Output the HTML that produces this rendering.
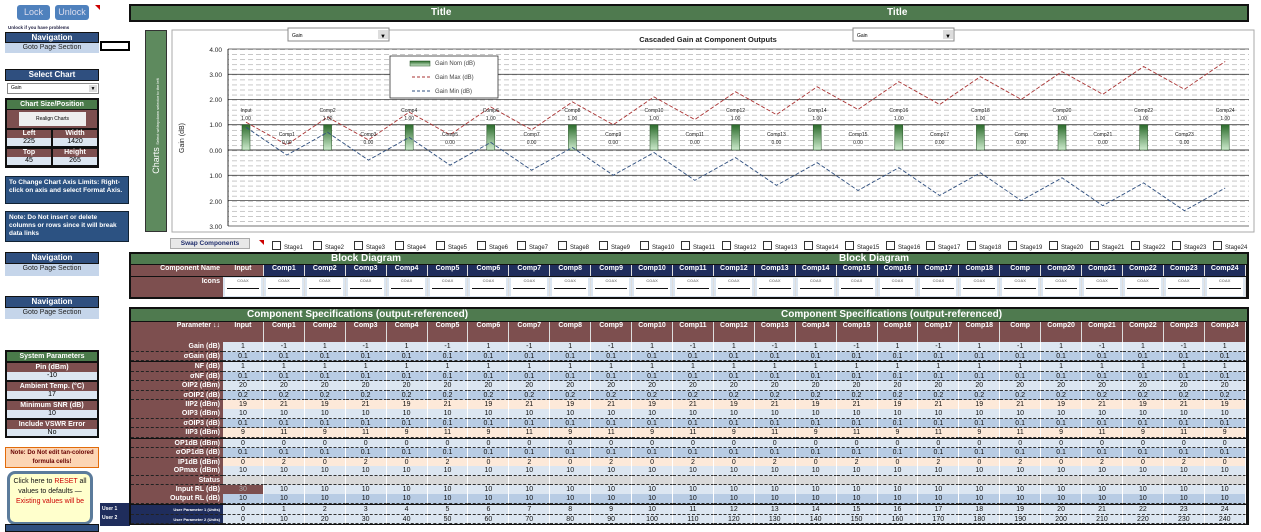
<!DOCTYPE html>
<html><head><meta charset="utf-8"><style>
*{margin:0;padding:0;box-sizing:border-box}
body{width:1261px;height:530px;background:#fff;position:relative;overflow:hidden;font-family:"Liberation Sans",sans-serif}
.a{position:absolute}
.nv{position:absolute;background:#2f4f7f;color:#fff;font:bold 8px "Liberation Sans",sans-serif;text-align:center;border:1px solid #111;line-height:9px}
.gp{position:absolute;background:#c5d5ea;color:#222;font:7px "Liberation Sans",sans-serif;text-align:center;line-height:10px}
.r{position:absolute;left:131px;display:flex;height:9.5px}
.r b{width:92px;background:#7d4f4f;color:#fff;text-align:right;font:bold 7px "Liberation Sans",sans-serif;padding-right:3px;line-height:9.5px;border-bottom:1px dashed #222}
.r i{width:40.92px;font-style:normal;text-align:center;font:7px "Liberation Sans",sans-serif;line-height:9px;border-right:1px solid #fff;border-bottom:1px dashed #333;color:#111}
.L i{background:#dce6f1}.M i{background:#b8cce4}.P i{background:#fde9d9}.G i{background:#d9d9d9}
.hd{position:absolute;left:131px;display:flex}
.hd b{width:92px;background:#7d4f4f;color:#fff;text-align:right;font:bold 7px "Liberation Sans",sans-serif;padding-right:3px}
.hd i{width:40.92px;font-style:normal;text-align:center;font:bold 7px "Liberation Sans",sans-serif;color:#fff;border-right:1px solid #ddd}
.cb{position:absolute;top:241px;font:6px "Liberation Sans",sans-serif;color:#222;white-space:nowrap}
.cb:before{content:"";display:inline-block;width:7px;height:7px;border:1px solid #333;margin-right:3px;vertical-align:-1px}
.ic i{background:#dce6f1;padding:1px 2px}
.ic i span{display:block;background:#fff;height:18px;font-size:4px;color:#888;line-height:6px;position:relative}
.ic i span:after{content:"";position:absolute;left:2px;right:2px;top:10px;height:1px;background:#111}
</style></head><body>

<!-- Left panel -->
<div class="a" style="left:17px;top:5px;width:33px;height:15px;background:#4f81bd;border-radius:3px;color:#dde;font:9px 'Liberation Sans';text-align:center;line-height:15px">Lock</div>
<div class="a" style="left:55px;top:5px;width:34px;height:15px;background:#4f81bd;border-radius:3px;color:#dde;font:9px 'Liberation Sans';text-align:center;line-height:15px">Unlock</div>
<div class="a" style="left:95px;top:5px;width:0;height:0;border-left:5px solid transparent;border-top:5px solid #c00"></div>
<div class="a" style="left:8px;top:25px;font:bold 4.5px 'Liberation Sans';color:#224">Unlock if you have problems</div>
<div class="nv" style="left:5px;top:32px;width:94px;height:11px">Navigation</div>
<div class="gp" style="left:5px;top:43px;width:94px;height:10px">Goto Page Section</div>
<div class="a" style="left:100px;top:41px;width:30px;height:10px;border:2px solid #000"></div>

<div class="nv" style="left:5px;top:69px;width:94px;height:12px;line-height:10px">Select Chart</div>
<div class="a" style="left:7px;top:83px;width:92px;height:11px;border:1px solid #888;font:5px 'Liberation Sans';line-height:9px;padding-left:3px">Gain<span style="position:absolute;right:1px;top:1px;width:8px;height:7px;background:#ddd;font-size:5px;text-align:center">▼</span></div>

<div class="a" style="left:5px;top:98px;width:94px;height:70px;background:#111"></div>
<div class="a" style="left:7px;top:100px;width:90px;height:9px;background:#4a7a4a;color:#fff;font:bold 7px 'Liberation Sans';text-align:center;line-height:9px">Chart Size/Position</div>
<div class="a" style="left:7px;top:110px;width:90px;height:18px;background:#7d4f4f"></div>
<div class="a" style="left:19px;top:112px;width:67px;height:14px;background:#eee;font:5px 'Liberation Sans';text-align:center;line-height:14px">Realign Charts</div>
<div class="a" style="left:7px;top:130px;width:44px;height:8px;background:#7d4f4f;color:#fff;font:bold 7px 'Liberation Sans';text-align:center;line-height:8px">Left</div>
<div class="a" style="left:53px;top:130px;width:44px;height:8px;background:#7d4f4f;color:#fff;font:bold 7px 'Liberation Sans';text-align:center;line-height:8px">Width</div>
<div class="a" style="left:7px;top:138px;width:44px;height:8px;background:#dce6f1;font:7px 'Liberation Sans';text-align:center;line-height:8px">225</div>
<div class="a" style="left:53px;top:138px;width:44px;height:8px;background:#dce6f1;font:7px 'Liberation Sans';text-align:center;line-height:8px">1420</div>
<div class="a" style="left:7px;top:149px;width:44px;height:8px;background:#7d4f4f;color:#fff;font:bold 7px 'Liberation Sans';text-align:center;line-height:8px">Top</div>
<div class="a" style="left:53px;top:149px;width:44px;height:8px;background:#7d4f4f;color:#fff;font:bold 7px 'Liberation Sans';text-align:center;line-height:8px">Height</div>
<div class="a" style="left:7px;top:157px;width:44px;height:8px;background:#dce6f1;font:7px 'Liberation Sans';text-align:center;line-height:8px">45</div>
<div class="a" style="left:53px;top:157px;width:44px;height:8px;background:#dce6f1;font:7px 'Liberation Sans';text-align:center;line-height:8px">265</div>

<div class="a" style="left:5px;top:176px;width:124px;height:28px;background:#2c5282;border:1px solid #123;color:#fff;font:bold 6.5px 'Liberation Sans';padding:2px 3px;line-height:8px">To Change Chart Axis Limits: Right-click on axis and select Format Axis.</div>
<div class="a" style="left:5px;top:211px;width:124px;height:31px;background:#2c5282;border:1px solid #123;color:#fff;font:bold 6.5px 'Liberation Sans';padding:2px 3px;line-height:8px;overflow:hidden">Note: Do Not insert or delete columns or rows since it will break data links</div>

<div class="nv" style="left:5px;top:252px;width:94px;height:12px;line-height:10px">Navigation</div>
<div class="gp" style="left:5px;top:264px;width:94px;height:12px">Goto Page Section</div>
<div class="nv" style="left:5px;top:296px;width:94px;height:12px;line-height:10px">Navigation</div>
<div class="gp" style="left:5px;top:308px;width:94px;height:11px">Goto Page Section</div>

<div class="a" style="left:5px;top:350px;width:94px;height:88px;background:#111"></div>
<div class="a" style="left:7px;top:352px;width:90px;height:9px;background:#4a7a4a;color:#fff;font:bold 7px 'Liberation Sans';text-align:center;line-height:9px">System Parameters</div>
<div class="a" style="left:7px;top:363px;width:90px;height:9px;background:#7d4f4f;color:#fff;font:bold 7px 'Liberation Sans';text-align:center;line-height:9px">Pin (dBm)</div>
<div class="a" style="left:7px;top:372px;width:90px;height:8px;background:#dce6f1;font:7px 'Liberation Sans';text-align:center;line-height:8px">-10</div>
<div class="a" style="left:7px;top:382px;width:90px;height:9px;background:#7d4f4f;color:#fff;font:bold 7px 'Liberation Sans';text-align:center;line-height:9px">Ambient Temp. (°C)</div>
<div class="a" style="left:7px;top:391px;width:90px;height:8px;background:#dce6f1;font:7px 'Liberation Sans';text-align:center;line-height:8px">17</div>
<div class="a" style="left:7px;top:401px;width:90px;height:9px;background:#7d4f4f;color:#fff;font:bold 7px 'Liberation Sans';text-align:center;line-height:9px">Minimum SNR (dB)</div>
<div class="a" style="left:7px;top:410px;width:90px;height:8px;background:#dce6f1;font:7px 'Liberation Sans';text-align:center;line-height:8px">10</div>
<div class="a" style="left:7px;top:420px;width:90px;height:9px;background:#7d4f4f;color:#fff;font:bold 7px 'Liberation Sans';text-align:center;line-height:9px">Include VSWR Error</div>
<div class="a" style="left:7px;top:429px;width:90px;height:7px;background:#dce6f1;font:7px 'Liberation Sans';text-align:center;line-height:7px">No</div>

<div class="a" style="left:5px;top:447px;width:94px;height:21px;background:#fcd5b4;border:1px solid #e26b0a;font:bold 6px 'Liberation Sans';color:#600;text-align:center;line-height:9px;padding-top:1px">Note: Do Not edit tan-colored formula cells!</div>
<div class="a" style="left:7px;top:471px;width:86px;height:54px;background:#ffffcc;border:3px solid #5b7b9b;border-radius:8px;font:7px 'Liberation Sans';text-align:center;line-height:10px;padding-top:3px;color:#111">Click here to <span style="color:#c00">RESET</span> all values to defaults — <span style="color:#c00">Existing values will be</span></div>
<div class="a" style="left:100px;top:503px;width:30px;height:23px;background:#1f2d5c;color:#fff;font:bold 5px 'Liberation Sans';line-height:9px;padding:2px">User 1<br>User 2</div>
<div class="nv" style="left:5px;top:524px;width:94px;height:8px"></div>

<!-- Title bar -->
<div class="a" style="left:129px;top:4px;width:1120px;height:18px;background:#4f7a4f;border:2px solid #111;color:#fff;font:bold 10px 'Liberation Sans';line-height:14px"><span class="a" style="left:300px">Title</span><span class="a" style="left:756px">Title</span></div>

<!-- Chart side bar -->
<div class="a" style="left:145px;top:30px;width:22px;height:202px;background:#5e8a5e;border:1px solid #333"><div class="a" style="left:-80px;top:90px;width:180px;transform:rotate(-90deg);color:#fff;font:9px 'Liberation Sans';text-align:center">Charts <span style="font-size:4px">Select w/dropdown selector to the left</span></div></div>

<!-- Chart -->
<svg class="a" style="left:0;top:0" width="1261" height="530" viewBox="0 0 1261 530" font-family="Liberation Sans, sans-serif">
<defs>
<pattern id="mg" width="8" height="5.06" patternUnits="userSpaceOnUse" y="49"><line x1="0" y1="0.5" x2="5" y2="0.5" stroke="#bbb" stroke-width="0.8"/></pattern>
<linearGradient id="bg" x1="0" x2="1"><stop offset="0" stop-color="#2e6b2e"/><stop offset="0.5" stop-color="#9fd49f"/><stop offset="1" stop-color="#2e6b2e"/></linearGradient>
<linearGradient id="bv" x1="0" y1="0" x2="0" y2="1"><stop offset="0" stop-color="#2a6a2a"/><stop offset="1" stop-color="#cdebcd"/></linearGradient>
</defs>
<rect x="172" y="30" width="1082" height="202" fill="#fff" stroke="#aaa"/>
<rect x="288" y="28" width="101" height="13" fill="#fff" stroke="#888"/><text x="292" y="37" font-size="5">Gain</text><rect x="378" y="30" width="10" height="9" fill="#ddd"/><text x="380" y="38" font-size="6">▼</text>
<rect x="853" y="28" width="101" height="13" fill="#fff" stroke="#888"/><text x="857" y="37" font-size="5">Gain</text><rect x="943" y="30" width="10" height="9" fill="#ddd"/><text x="945" y="38" font-size="6">▼</text>
<text x="708" y="42" font-size="7.5" font-weight="bold" text-anchor="middle" fill="#222">Cascaded Gain  at Component Outputs</text>
<text transform="translate(184,138) rotate(-90)" font-size="7" text-anchor="middle" fill="#222">Gain (dB)</text>
<rect x="228" y="49" width="1021" height="177" fill="url(#mg)"/>
<g stroke="#444" stroke-width="0.8">
<line x1="228" y1="49" x2="1249" y2="49"/><line x1="228" y1="74.3" x2="1249" y2="74.3"/><line x1="228" y1="99.4" x2="1249" y2="99.4"/><line x1="228" y1="124.7" x2="1249" y2="124.7"/><line x1="228" y1="150" x2="1249" y2="150" stroke="#000"/><line x1="228" y1="175.3" x2="1249" y2="175.3"/><line x1="228" y1="200.6" x2="1249" y2="200.6"/><line x1="228" y1="226" x2="1249" y2="226"/><line x1="228" y1="49" x2="228" y2="226" stroke="#000"/>
</g>
<g font-size="6.5" text-anchor="end" fill="#222">
<text x="222" y="52">4.00</text><text x="222" y="77">3.00</text><text x="222" y="102">2.00</text><text x="222" y="127">1.00</text><text x="222" y="153">0.00</text><text x="222" y="178">1.00</text><text x="222" y="204">2.00</text><text x="222" y="229">3.00</text>
</g>
<g fill="url(#bv)" stroke="#1e4d1e" stroke-width="0.5">
<rect x="242" y="124.7" width="8" height="25.3"/><rect x="323.6" y="124.7" width="8" height="25.3"/><rect x="405.2" y="124.7" width="8" height="25.3"/><rect x="486.8" y="124.7" width="8" height="25.3"/><rect x="568.4" y="124.7" width="8" height="25.3"/><rect x="650" y="124.7" width="8" height="25.3"/><rect x="731.6" y="124.7" width="8" height="25.3"/><rect x="813.2" y="124.7" width="8" height="25.3"/><rect x="894.8" y="124.7" width="8" height="25.3"/><rect x="976.4" y="124.7" width="8" height="25.3"/><rect x="1058" y="124.7" width="8" height="25.3"/><rect x="1139.6" y="124.7" width="8" height="25.3"/><rect x="1221.2" y="124.7" width="8" height="25.3"/>
</g>
<polyline fill="none" stroke="#a33" stroke-width="0.9" stroke-dasharray="4,2" points="246,122.2 286.8,144.9 327.6,117.1 368.4,139.9 409.2,112.1 450,134.8 490.8,107 531.6,129.8 572.4,101.9 613.2,124.7 654,96.9 694.8,119.6 735.6,91.8 776.4,114.6 817.2,86.8 858,109.5 898.8,81.7 939.6,104.5 980.4,76.6 1021.2,99.4 1062,71.6 1102.8,94.3 1143.6,66.5 1184.4,89.3 1225.2,61.5"/>
<polyline fill="none" stroke="#2f4f7f" stroke-width="0.9" stroke-dasharray="4,2" points="246,127.2 286.8,155.1 327.6,132.3 368.4,160.1 409.2,137.4 450,165.2 490.8,142.4 531.6,170.2 572.4,147.5 613.2,175.3 654,152.5 694.8,180.4 735.6,157.6 776.4,185.4 817.2,162.7 858,190.5 898.8,167.7 939.6,195.5 980.4,172.8 1021.2,200.6 1062,177.8 1102.8,205.7 1143.6,182.9 1184.4,210.7 1225.2,188"/>
<g font-size="5" text-anchor="middle" fill="#222">
<text x="246" y="112">Input</text><text x="246" y="120">1.00</text>
<text x="327.6" y="112">Comp2</text><text x="327.6" y="120">1.00</text>
<text x="409.2" y="112">Comp4</text><text x="409.2" y="120">1.00</text>
<text x="490.8" y="112">Comp6</text><text x="490.8" y="120">1.00</text>
<text x="572.4" y="112">Comp8</text><text x="572.4" y="120">1.00</text>
<text x="654" y="112">Comp10</text><text x="654" y="120">1.00</text>
<text x="735.6" y="112">Comp12</text><text x="735.6" y="120">1.00</text>
<text x="817.2" y="112">Comp14</text><text x="817.2" y="120">1.00</text>
<text x="898.8" y="112">Comp16</text><text x="898.8" y="120">1.00</text>
<text x="980.4" y="112">Comp18</text><text x="980.4" y="120">1.00</text>
<text x="1062" y="112">Comp20</text><text x="1062" y="120">1.00</text>
<text x="1143.6" y="112">Comp22</text><text x="1143.6" y="120">1.00</text>
<text x="1225.2" y="112">Comp24</text><text x="1225.2" y="120">1.00</text>
<text x="286.8" y="136">Comp1</text><text x="286.8" y="144">0.00</text>
<text x="368.4" y="136">Comp3</text><text x="368.4" y="144">0.00</text>
<text x="450" y="136">Comp5</text><text x="450" y="144">0.00</text>
<text x="531.6" y="136">Comp7</text><text x="531.6" y="144">0.00</text>
<text x="613.2" y="136">Comp9</text><text x="613.2" y="144">0.00</text>
<text x="694.8" y="136">Comp11</text><text x="694.8" y="144">0.00</text>
<text x="776.4" y="136">Comp13</text><text x="776.4" y="144">0.00</text>
<text x="858" y="136">Comp15</text><text x="858" y="144">0.00</text>
<text x="939.6" y="136">Comp17</text><text x="939.6" y="144">0.00</text>
<text x="1021.2" y="136">Comp</text><text x="1021.2" y="144">0.00</text>
<text x="1102.8" y="136">Comp21</text><text x="1102.8" y="144">0.00</text>
<text x="1184.4" y="136">Comp23</text><text x="1184.4" y="144">0.00</text>
</g>
<rect x="390" y="56" width="108" height="42" fill="#fff" stroke="#333" stroke-width="0.8"/>
<rect x="410" y="61" width="20" height="5" fill="url(#bv)" stroke="#1e4d1e" stroke-width="0.5"/>
<line x1="412" y1="77" x2="430" y2="77" stroke="#a33" stroke-dasharray="3,2"/>
<line x1="412" y1="91" x2="430" y2="91" stroke="#2f4f7f" stroke-dasharray="3,2"/>
<g font-size="6" fill="#444"><text x="435" y="65">Gain Nom (dB)</text><text x="435" y="79">Gain Max (dB)</text><text x="435" y="93">Gain Min (dB)</text></g>
</svg>

<!-- Swap row -->
<div class="a" style="left:170px;top:238px;width:80px;height:11px;background:#e8e8e8;border:1px solid #aaa;color:#1f2d6c;font:bold 6.5px 'Liberation Sans';text-align:center;line-height:9px">Swap Components</div>
<div class="a" style="left:259px;top:240px;border-left:5px solid transparent;border-top:5px solid #c00"></div>
<div class="cb" style="left:272px">Stage1</div><div class="cb" style="left:313px">Stage2</div><div class="cb" style="left:354px">Stage3</div><div class="cb" style="left:395px">Stage4</div><div class="cb" style="left:436px">Stage5</div><div class="cb" style="left:477px">Stage6</div><div class="cb" style="left:517px">Stage7</div><div class="cb" style="left:558px">Stage8</div><div class="cb" style="left:599px">Stage9</div><div class="cb" style="left:640px">Stage10</div><div class="cb" style="left:681px">Stage11</div><div class="cb" style="left:722px">Stage12</div><div class="cb" style="left:763px">Stage13</div><div class="cb" style="left:804px">Stage14</div><div class="cb" style="left:845px">Stage15</div><div class="cb" style="left:886px">Stage16</div><div class="cb" style="left:926px">Stage17</div><div class="cb" style="left:967px">Stage18</div><div class="cb" style="left:1008px">Stage19</div><div class="cb" style="left:1049px">Stage20</div><div class="cb" style="left:1090px">Stage21</div><div class="cb" style="left:1131px">Stage22</div><div class="cb" style="left:1172px">Stage23</div><div class="cb" style="left:1213px">Stage24</div>

<!-- Block Diagram -->
<div class="a" style="left:129px;top:252px;width:1120px;height:47px;background:#111"></div>
<div class="a" style="left:131px;top:254px;width:1116px;height:10px;background:#4f7a4f;color:#fff;font:bold 10px 'Liberation Sans';line-height:10px"><span class="a" style="left:200px">Block Diagram</span><span class="a" style="left:708px">Block Diagram</span></div>
<div class="hd" style="top:265px;height:11px;line-height:11px"><b>Component Name</b><i style="background:#7d4f4f">Input</i><i style="background:#1f2d5c">Comp1</i><i style="background:#1f2d5c">Comp2</i><i style="background:#1f2d5c">Comp3</i><i style="background:#1f2d5c">Comp4</i><i style="background:#1f2d5c">Comp5</i><i style="background:#1f2d5c">Comp6</i><i style="background:#1f2d5c">Comp7</i><i style="background:#1f2d5c">Comp8</i><i style="background:#1f2d5c">Comp9</i><i style="background:#1f2d5c">Comp10</i><i style="background:#1f2d5c">Comp11</i><i style="background:#1f2d5c">Comp12</i><i style="background:#1f2d5c">Comp13</i><i style="background:#1f2d5c">Comp14</i><i style="background:#1f2d5c">Comp15</i><i style="background:#1f2d5c">Comp16</i><i style="background:#1f2d5c">Comp17</i><i style="background:#1f2d5c">Comp18</i><i style="background:#1f2d5c">Comp</i><i style="background:#1f2d5c">Comp20</i><i style="background:#1f2d5c">Comp21</i><i style="background:#1f2d5c">Comp22</i><i style="background:#1f2d5c">Comp23</i><i style="background:#1f2d5c">Comp24</i></div>
<div class="hd ic" style="top:277px;height:20px"><b style="line-height:10px">Icons</b><i><span>COAX</span></i><i><span>COAX</span></i><i><span>COAX</span></i><i><span>COAX</span></i><i><span>COAX</span></i><i><span>COAX</span></i><i><span>COAX</span></i><i><span>COAX</span></i><i><span>COAX</span></i><i><span>COAX</span></i><i><span>COAX</span></i><i><span>COAX</span></i><i><span>COAX</span></i><i><span>COAX</span></i><i><span>COAX</span></i><i><span>COAX</span></i><i><span>COAX</span></i><i><span>COAX</span></i><i><span>COAX</span></i><i><span>COAX</span></i><i><span>COAX</span></i><i><span>COAX</span></i><i><span>COAX</span></i><i><span>COAX</span></i><i><span>COAX</span></i></div>

<!-- Component specs -->
<div class="a" style="left:129px;top:307px;width:1120px;height:218px;background:#111"></div>
<div class="a" style="left:131px;top:309px;width:1116px;height:12px;background:#4f7a4f;color:#fff;font:bold 10px 'Liberation Sans';line-height:12px"><span class="a" style="left:116px">Component Specifications (output-referenced)</span><span class="a" style="left:650px">Component Specifications (output-referenced)</span></div>
<div class="hd" style="top:322px;height:20px;line-height:28px;background:#7d4f4f"><b>Parameter ↓↓</b><i>Input</i><i>Comp1</i><i>Comp2</i><i>Comp3</i><i>Comp4</i><i>Comp5</i><i>Comp6</i><i>Comp7</i><i>Comp8</i><i>Comp9</i><i>Comp10</i><i>Comp11</i><i>Comp12</i><i>Comp13</i><i>Comp14</i><i>Comp15</i><i>Comp16</i><i>Comp17</i><i>Comp18</i><i>Comp</i><i>Comp20</i><i>Comp21</i><i>Comp22</i><i>Comp23</i><i>Comp24</i></div>

<div class="r L" style="top:342px"><b>Gain (dB)</b><i>1</i><i>-1</i><i>1</i><i>-1</i><i>1</i><i>-1</i><i>1</i><i>-1</i><i>1</i><i>-1</i><i>1</i><i>-1</i><i>1</i><i>-1</i><i>1</i><i>-1</i><i>1</i><i>-1</i><i>1</i><i>-1</i><i>1</i><i>-1</i><i>1</i><i>-1</i><i>1</i></div>
<div class="r M" style="top:351.5px"><b>σGain (dB)</b><i>0.1</i><i>0.1</i><i>0.1</i><i>0.1</i><i>0.1</i><i>0.1</i><i>0.1</i><i>0.1</i><i>0.1</i><i>0.1</i><i>0.1</i><i>0.1</i><i>0.1</i><i>0.1</i><i>0.1</i><i>0.1</i><i>0.1</i><i>0.1</i><i>0.1</i><i>0.1</i><i>0.1</i><i>0.1</i><i>0.1</i><i>0.1</i><i>0.1</i></div>
<div class="r L" style="top:362px"><b>NF (dB)</b><i>1</i><i>1</i><i>1</i><i>1</i><i>1</i><i>1</i><i>1</i><i>1</i><i>1</i><i>1</i><i>1</i><i>1</i><i>1</i><i>1</i><i>1</i><i>1</i><i>1</i><i>1</i><i>1</i><i>1</i><i>1</i><i>1</i><i>1</i><i>1</i><i>1</i></div>
<div class="r M" style="top:371.5px"><b>σNF (dB)</b><i>0.1</i><i>0.1</i><i>0.1</i><i>0.1</i><i>0.1</i><i>0.1</i><i>0.1</i><i>0.1</i><i>0.1</i><i>0.1</i><i>0.1</i><i>0.1</i><i>0.1</i><i>0.1</i><i>0.1</i><i>0.1</i><i>0.1</i><i>0.1</i><i>0.1</i><i>0.1</i><i>0.1</i><i>0.1</i><i>0.1</i><i>0.1</i><i>0.1</i></div>
<div class="r L" style="top:381px"><b>OIP2 (dBm)</b><i>20</i><i>20</i><i>20</i><i>20</i><i>20</i><i>20</i><i>20</i><i>20</i><i>20</i><i>20</i><i>20</i><i>20</i><i>20</i><i>20</i><i>20</i><i>20</i><i>20</i><i>20</i><i>20</i><i>20</i><i>20</i><i>20</i><i>20</i><i>20</i><i>20</i></div>
<div class="r M" style="top:390.5px"><b>σOIP2 (dB)</b><i>0.2</i><i>0.2</i><i>0.2</i><i>0.2</i><i>0.2</i><i>0.2</i><i>0.2</i><i>0.2</i><i>0.2</i><i>0.2</i><i>0.2</i><i>0.2</i><i>0.2</i><i>0.2</i><i>0.2</i><i>0.2</i><i>0.2</i><i>0.2</i><i>0.2</i><i>0.2</i><i>0.2</i><i>0.2</i><i>0.2</i><i>0.2</i><i>0.2</i></div>
<div class="r P" style="top:400px"><b>IIP2 (dBm)</b><i>19</i><i>21</i><i>19</i><i>21</i><i>19</i><i>21</i><i>19</i><i>21</i><i>19</i><i>21</i><i>19</i><i>21</i><i>19</i><i>21</i><i>19</i><i>21</i><i>19</i><i>21</i><i>19</i><i>21</i><i>19</i><i>21</i><i>19</i><i>21</i><i>19</i></div>
<div class="r L" style="top:409px"><b>OIP3 (dBm)</b><i>10</i><i>10</i><i>10</i><i>10</i><i>10</i><i>10</i><i>10</i><i>10</i><i>10</i><i>10</i><i>10</i><i>10</i><i>10</i><i>10</i><i>10</i><i>10</i><i>10</i><i>10</i><i>10</i><i>10</i><i>10</i><i>10</i><i>10</i><i>10</i><i>10</i></div>
<div class="r M" style="top:418.5px"><b>σOIP3 (dB)</b><i>0.1</i><i>0.1</i><i>0.1</i><i>0.1</i><i>0.1</i><i>0.1</i><i>0.1</i><i>0.1</i><i>0.1</i><i>0.1</i><i>0.1</i><i>0.1</i><i>0.1</i><i>0.1</i><i>0.1</i><i>0.1</i><i>0.1</i><i>0.1</i><i>0.1</i><i>0.1</i><i>0.1</i><i>0.1</i><i>0.1</i><i>0.1</i><i>0.1</i></div>
<div class="r P" style="top:428px"><b>IIP3 (dBm)</b><i>9</i><i>11</i><i>9</i><i>11</i><i>9</i><i>11</i><i>9</i><i>11</i><i>9</i><i>11</i><i>9</i><i>11</i><i>9</i><i>11</i><i>9</i><i>11</i><i>9</i><i>11</i><i>9</i><i>11</i><i>9</i><i>11</i><i>9</i><i>11</i><i>9</i></div>
<div class="r L" style="top:438.5px"><b>OP1dB (dBm)</b><i>0</i><i>0</i><i>0</i><i>0</i><i>0</i><i>0</i><i>0</i><i>0</i><i>0</i><i>0</i><i>0</i><i>0</i><i>0</i><i>0</i><i>0</i><i>0</i><i>0</i><i>0</i><i>0</i><i>0</i><i>0</i><i>0</i><i>0</i><i>0</i><i>0</i></div>
<div class="r M" style="top:448px"><b>σOP1dB (dB)</b><i>0.1</i><i>0.1</i><i>0.1</i><i>0.1</i><i>0.1</i><i>0.1</i><i>0.1</i><i>0.1</i><i>0.1</i><i>0.1</i><i>0.1</i><i>0.1</i><i>0.1</i><i>0.1</i><i>0.1</i><i>0.1</i><i>0.1</i><i>0.1</i><i>0.1</i><i>0.1</i><i>0.1</i><i>0.1</i><i>0.1</i><i>0.1</i><i>0.1</i></div>
<div class="r P" style="top:457.5px"><b>IP1dB (dBm)</b><i>0</i><i>2</i><i>0</i><i>2</i><i>0</i><i>2</i><i>0</i><i>2</i><i>0</i><i>2</i><i>0</i><i>2</i><i>0</i><i>2</i><i>0</i><i>2</i><i>0</i><i>2</i><i>0</i><i>2</i><i>0</i><i>2</i><i>0</i><i>2</i><i>0</i></div>
<div class="r L" style="top:466px"><b>OPmax (dBm)</b><i>10</i><i>10</i><i>10</i><i>10</i><i>10</i><i>10</i><i>10</i><i>10</i><i>10</i><i>10</i><i>10</i><i>10</i><i>10</i><i>10</i><i>10</i><i>10</i><i>10</i><i>10</i><i>10</i><i>10</i><i>10</i><i>10</i><i>10</i><i>10</i><i>10</i></div>
<div class="r G" style="top:475.5px"><b>Status</b><i></i><i></i><i></i><i></i><i></i><i></i><i></i><i></i><i></i><i></i><i></i><i></i><i></i><i></i><i></i><i></i><i></i><i></i><i></i><i></i><i></i><i></i><i></i><i></i><i></i></div>
<div class="r L" style="top:485px"><b>Input RL (dB)</b><i style="background:#7d4f4f;color:#aaa">30</i><i>10</i><i>10</i><i>10</i><i>10</i><i>10</i><i>10</i><i>10</i><i>10</i><i>10</i><i>10</i><i>10</i><i>10</i><i>10</i><i>10</i><i>10</i><i>10</i><i>10</i><i>10</i><i>10</i><i>10</i><i>10</i><i>10</i><i>10</i><i>10</i></div>
<div class="r M" style="top:494px"><b>Output RL (dB)</b><i>10</i><i>10</i><i>10</i><i>10</i><i>10</i><i>10</i><i>10</i><i>10</i><i>10</i><i>10</i><i>10</i><i>10</i><i>10</i><i>10</i><i>10</i><i>10</i><i>10</i><i>10</i><i>10</i><i>10</i><i>10</i><i>10</i><i>10</i><i>10</i><i>10</i></div>
<div class="r L" style="top:505px"><b style="background:#1f2d5c;font-size:4px">User Parameter 1 (Units)</b><i>0</i><i>1</i><i>2</i><i>3</i><i>4</i><i>5</i><i>6</i><i>7</i><i>8</i><i>9</i><i>10</i><i>11</i><i>12</i><i>13</i><i>14</i><i>15</i><i>16</i><i>17</i><i>18</i><i>19</i><i>20</i><i>21</i><i>22</i><i>23</i><i>24</i></div>
<div class="r L" style="top:514.5px"><b style="background:#1f2d5c;font-size:4px">User Parameter 2 (Units)</b><i>0</i><i>10</i><i>20</i><i>30</i><i>40</i><i>50</i><i>60</i><i>70</i><i>80</i><i>90</i><i>100</i><i>110</i><i>120</i><i>130</i><i>140</i><i>150</i><i>160</i><i>170</i><i>180</i><i>190</i><i>200</i><i>210</i><i>220</i><i>230</i><i>240</i></div>
</body></html>
